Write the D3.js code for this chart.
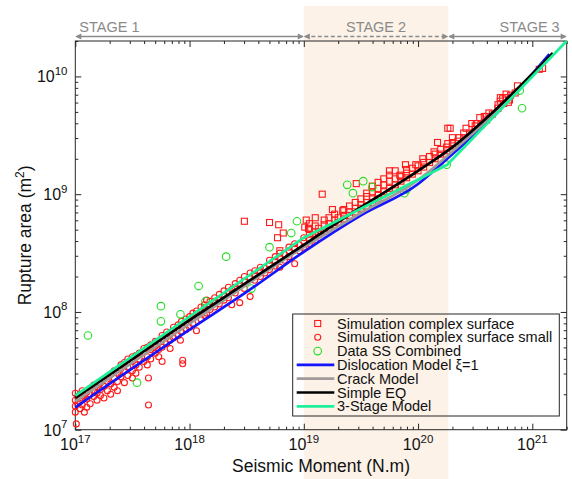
<!DOCTYPE html>
<html><head><meta charset="utf-8">
<script src="https://cdn.jsdelivr.net/npm/d3@7"></script>
<style>body{margin:0;background:#fff}svg{display:block;font-family:"Liberation Sans",Arial,Helvetica,sans-serif}</style>
</head><body><svg id="c" width="572" height="479"></svg>
<script>
// ---------- data ----------
const xDomain = [1e17, 2e21];
const yDomain = [1e7, 2e10];
const xTickExps = ["17", "18", "19", "20", "21"];
const yTickExps = ["7", "8", "9", "10"];
const stageBounds = [1e17, 1e19, 1.84e20, 2e21];
const stageNames = ["STAGE 1", "STAGE 2", "STAGE 3"];
const legendLabels = ["Simulation complex surface", "Simulation complex surface small", "Data SS Combined",
  "Dislocation Model \u03BE=1", "Crack Model", "Simple EQ", "3-Stage Model"];

// Simulation complex surface (squares): [moment, [areas...]]
const simComplexSurface = [
 [3.02e18,[5.89e8]],[5.01e18,[5.75e8]],[6.03e18,[5.50e8]],[6.61e18,[4.68e8]],[5.89e18,[4.27e8]],[6.17e18,[3.31e8]],
 [1.02e19,[5.25e8]],[1.05e19,[6.03e8]],[1.10e19,[5.13e8]],[1.12e19,[5.62e8,4.57e8,5.01e8]],[1.26e19,[6.31e8,4.79e8,5.37e8]],
 [1.35e19,[5.13e8,4.57e8]],[1.45e19,[1.00e9]],[1.51e19,[5.50e8,4.90e8,6.03e8]],[1.66e19,[5.62e8,6.31e8,5.13e8]],
 [1.78e19,[7.41e8]],[1.86e19,[6.03e8,6.76e8,5.50e8]],[2.00e19,[6.31e8,5.75e8]],[2.19e19,[7.24e8]],
 [2.24e19,[6.61e8,7.41e8,6.17e8]],[2.51e19,[7.08e8,7.94e8,6.61e8]],[2.82e19,[7.59e8,8.51e8,7.08e8]],[2.88e19,[1.23e9]],
 [3.16e19,[8.13e8,9.12e8,7.59e8]],[3.55e19,[1.02e9,8.51e8,9.55e8,7.94e8]],[3.98e19,[9.12e8,1.05e9,1.17e9,8.51e8]],
 [4.47e19,[9.77e8,1.12e9,1.26e9,9.12e8]],[5.01e19,[1.05e9,1.20e9,1.35e9]],[5.62e19,[1.58e9,1.45e9,1.12e9,1.29e9]],
 [6.31e19,[1.58e9,1.20e9,1.35e9,1.12e9]],[6.92e19,[1.45e9]],[7.08e19,[1.29e9,1.41e9]],[7.76e19,[1.78e9]],
 [7.94e19,[1.38e9,1.51e9,1.62e9]],[8.91e19,[1.48e9,1.66e9]],[9.55e19,[1.78e9]],[1.00e20,[1.58e9,1.74e9]],
 [1.10e20,[2.00e9]],[1.12e20,[1.70e9,1.86e9]],[1.26e20,[1.86e9,2.09e9]],[1.38e20,[2.29e9]],[1.41e20,[2.00e9,2.19e9]],
 [1.48e20,[2.75e9]],[1.58e20,[2.19e9,2.40e9]],[1.78e20,[2.34e9,2.51e9]],[1.82e20,[3.63e9,2.69e9]],[1.91e20,[3.63e9]],
 [2.00e20,[3.02e9,2.57e9,2.75e9]],[2.24e20,[2.82e9]],[2.29e20,[3.02e9]],[2.51e20,[3.02e9,3.31e9]],[2.63e20,[3.63e9]],
 [2.82e20,[3.31e9]],[2.95e20,[3.98e9]],[3.16e20,[3.55e9,3.80e9]],[3.24e20,[3.98e9]],[3.47e20,[4.47e9]],[3.55e20,[3.89e9]],
 [3.80e20,[4.57e9]],[3.98e20,[4.27e9,4.57e9]],[4.17e20,[4.90e9]],[4.47e20,[4.79e9]],[5.01e20,[5.37e9,5.75e9]],
 [5.25e20,[6.17e9,6.61e9]],[5.50e20,[6.46e9]],[5.62e20,[5.89e9]],[5.89e20,[6.61e9,7.08e9]],[6.17e20,[6.03e9]],
 [6.31e20,[6.31e9]],[6.46e20,[6.92e9]],[7.08e20,[7.24e9]],[7.41e20,[8.32e9]],[1.15e21,[1.15e10]],[1.23e21,[1.17e10]]
];

// Simulation complex surface small (circles): [moment, [areas...]]
const simComplexSmall = [
 [1.00e17,[1.58e7,1.78e7,2.04e7,1.41e7]],[1.02e17,[1.12e7]],[1.05e17,[1.66e7,1.91e7]],[1.10e17,[1.51e7,2.00e7,1.74e7]],
 [1.15e17,[1.86e7,2.14e7,1.62e7]],[1.20e17,[1.41e7,1.95e7]],[1.26e17,[1.55e7,2.09e7,1.82e7]],[1.35e17,[2.00e7,2.24e7,1.66e7]],
 [1.45e17,[1.91e7,2.40e7,2.14e7]],[1.55e17,[1.78e7,2.29e7,2.04e7]],[1.66e17,[2.51e7,2.19e7,1.95e7]],[1.78e17,[2.34e7,2.69e7,1.86e7]],
 [1.91e17,[2.14e7,2.57e7,2.82e7]],[2.04e17,[2.45e7,2.95e7,2.00e7]],[2.19e17,[2.75e7,2.29e7,3.16e7]],[2.34e17,[3.02e7,2.57e7,2.14e7]],
 [2.51e17,[3.31e7,2.82e7,3.55e7]],[2.69e17,[3.16e7,2.51e7,3.72e7]],[2.88e17,[3.39e7,2.88e7,3.98e7]],[3.16e17,[3.80e7,3.16e7,4.17e7,2.75e7]],
 [3.39e17,[3.55e7,4.27e7,3.02e7]],[3.63e17,[3.98e7,4.47e7,3.39e7]],[3.98e17,[4.57e7,3.80e7,4.90e7]],[4.27e17,[4.17e7,5.01e7,3.55e7]],
 [4.37e17,[1.62e7,2.75e7]],[4.57e17,[4.79e7,5.25e7,3.98e7]],[5.01e17,[5.13e7,4.47e7,5.62e7]],[5.37e17,[5.50e7,4.79e7,4.17e7]],
 [5.75e17,[5.89e7,5.01e7,3.80e7,6.31e7]],[6.31e17,[6.17e7,5.37e7,6.76e7]],[6.76e17,[6.46e7,5.75e7,4.90e7]],[7.24e17,[6.92e7,6.03e7,7.41e7]],
 [7.94e17,[7.24e7,6.31e7,7.76e7]],[8.32e17,[5.75e7]],[8.71e17,[3.89e7,3.63e7]],[8.51e17,[7.59e7,6.76e7,8.32e7]],
 [9.33e17,[8.13e7,7.08e7,8.71e7]],[1.00e18,[8.51e7,7.41e7,9.12e7]],[1.07e18,[8.91e7,7.94e7,9.77e7]],[1.15e18,[6.92e7,9.33e7,1.02e8]],
 [1.26e18,[1.00e8,8.71e7,1.10e8]],[1.35e18,[1.07e8,9.33e7,1.15e8]],[1.41e18,[1.26e8,9.77e7]],[1.51e18,[1.15e8,1.05e8,1.23e8]],
 [1.66e18,[1.23e8,1.10e8,1.32e8]],[1.82e18,[1.29e8,1.17e8,1.41e8]],[2.00e18,[1.38e8,1.26e8,1.51e8]],[2.19e18,[1.48e8,1.32e8,1.62e8]],
 [2.34e18,[1.15e8,1.55e8]],[2.51e18,[1.62e8,1.45e8,1.74e8]],[2.75e18,[1.20e8,1.70e8,1.86e8]],[3.02e18,[1.82e8,1.58e8,2.00e8]],
 [3.39e18,[1.35e8,1.95e8,2.14e8]],[3.72e18,[2.04e8,1.86e8,2.24e8]],[4.17e18,[2.19e8,2.00e8,2.40e8]],[4.57e18,[2.34e8,2.14e8]],
 [5.01e18,[2.51e8,2.29e8,2.75e8]],[5.62e18,[2.69e8,2.45e8,2.95e8]],[6.17e18,[2.40e8,2.88e8,3.16e8]],[6.76e18,[3.09e8,2.75e8]],
 [7.41e18,[3.31e8,2.95e8,3.55e8]],[8.32e18,[2.57e8,3.47e8,3.80e8]],[9.12e18,[3.72e8,3.31e8]],[1.00e19,[3.98e8,3.55e8,4.27e8]],
 [1.12e19,[4.17e8,3.80e8]],[1.26e19,[4.57e8,4.07e8]],[1.41e19,[4.79e8]]
];

// Data SS Combined (green circles): [moment, area]
const dataSSCombined = [
 [1.29e17,6.31e7],[3.47e17,2.51e7],[5.62e17,1.12e8],[5.62e17,8.32e7],[8.32e17,9.55e7],[1.20e18,1.66e8],[1.38e18,1.23e8],
 [2.09e18,2.95e8],[3.47e18,1.58e8],[5.01e18,3.55e8],[7.76e18,4.68e8],[8.71e18,5.89e8],[2.40e19,1.20e9],[2.69e19,1.02e9],
 [3.31e19,1.29e9],[3.98e19,1.15e9],[7.59e19,1.02e9],[7.94e19,1.10e9],[1.78e20,1.78e9],[7.76e20,7.59e9],[8.13e20,5.37e9]
];

// model curves: [moment, area]
const dislocationModel = [[1e17,1.55e7],[1e18,7.08e7],[3.16e18,1.48e8],[1e19,3.24e8],[3.16e19,6.61e8],[1e20,1.22e9],[1.78e20,1.98e9],[4.79e20,4.79e9],[1.41e21,1.55e10]];
const crackModel = [[1e17,1.74e7],[1e18,7.94e7],[1e19,3.55e8],[3.16e19,6.92e8],[1e20,1.32e9],[1.78e20,2.09e9],[4.79e20,5.01e9],[1.26e21,1.32e10]];
const simpleEQ = [[1e17,1.86e7],[3.16e17,3.98e7],[1e18,8.51e7],[3.16e18,1.78e8],[1e19,3.72e8],[3.16e19,7.76e8],[1e20,1.58e9],[2e20,2.51e9],[4.79e20,5.25e9],[1e21,1.05e10],[1.51e21,1.58e10]];
const threeStageModel = [[1e17,1.95e7],[1e19,4.27e8],[1.8e20,1.78e9],[2e21,2e10]];

// ---------- drawing ----------
const W = 572, H = 479;
const m = {l: 75.3, r: 566.7, t: 41, b: 429.7};
const svg = d3.select("#c");
const x = d3.scaleLog().domain(xDomain).range([m.l, m.r]);
const y = d3.scaleLog().domain(yDomain).range([m.b, m.t]);

const colors = {red: "#ff1a1a", green: "#22dd22", blue: "#1414ff", gray: "#a09a98", black: "#000000", spring: "#1ef09a", stage: "#8a8a8a", axis: "#262626"};

svg.append("rect").attr("width", W).attr("height", H).attr("fill", "#fff");
svg.append("rect").attr("x", x(stageBounds[1])).attr("y", 6)
  .attr("width", x(stageBounds[2]) - x(stageBounds[1])).attr("height", H - 6).attr("fill", "#fcf2e8");

// ticks
const isMajor = v => Math.abs(Math.log10(v) - Math.round(Math.log10(v))) < 1e-9;
const xt = x.ticks(), yt = y.ticks();
const xMaj = xt.filter(isMajor), xMin = xt.filter(v => !isMajor(v));
const yMaj = yt.filter(isMajor), yMin = yt.filter(v => !isMajor(v));
function axisG(gen, scale, vals, size, tr) {
  svg.append("g").attr("transform", tr)
    .call(gen(scale).tickValues(vals).tickSize(size).tickFormat(""))
    .call(g => g.select(".domain").remove())
    .selectAll("line").attr("stroke", colors.axis).attr("stroke-width", 1);
}
axisG(d3.axisBottom, x, xMaj, -6, `translate(0,${m.b})`);
axisG(d3.axisBottom, x, xMin, -3, `translate(0,${m.b})`);
axisG(d3.axisTop, x, xMaj, -6, `translate(0,${m.t})`);
axisG(d3.axisTop, x, xMin, -3, `translate(0,${m.t})`);
axisG(d3.axisLeft, y, yMaj, -6, `translate(${m.l},0)`);
axisG(d3.axisLeft, y, yMin, -3, `translate(${m.l},0)`);
axisG(d3.axisRight, y, yMaj, -6, `translate(${m.r},0)`);
axisG(d3.axisRight, y, yMin, -3, `translate(${m.r},0)`);

svg.append("rect").attr("x", m.l).attr("y", m.t).attr("width", m.r - m.l).attr("height", m.b - m.t)
  .attr("fill", "none").attr("stroke", colors.axis).attr("stroke-width", 1);

// tick labels
xTickExps.forEach(e => {
  const t = svg.append("text").attr("x", x(+("1e" + e))).attr("y", 450).attr("text-anchor", "middle")
    .attr("font-size", 16).attr("fill", "#111");
  t.append("tspan").text("10");
  t.append("tspan").attr("dy", -7.5).attr("font-size", 11.5).text(e);
});
yTickExps.forEach(e => {
  const t = svg.append("text").attr("x", 67.5).attr("y", y(+("1e" + e)) + 6).attr("text-anchor", "end")
    .attr("font-size", 16).attr("fill", "#111");
  t.append("tspan").text("10");
  t.append("tspan").attr("dy", -7.5).attr("font-size", 11.5).text(e);
});

// axis titles
svg.append("text").attr("x", (m.l + m.r) / 2).attr("y", 471.5).attr("text-anchor", "middle")
  .attr("font-size", 17.5).attr("fill", "#111").text("Seismic Moment (N.m)");
const yl = svg.append("text").attr("transform", `translate(31,${(m.t + m.b) / 2}) rotate(-90)`)
  .attr("text-anchor", "middle").attr("font-size", 17.5).attr("fill", "#111");
yl.append("tspan").text("Rupture area (m");
yl.append("tspan").attr("dy", -7).attr("font-size", 12).text("2");
yl.append("tspan").attr("dy", 7).text(")");

// stage arrows
const arrowY = 36.5;
function arrowHead(px, dir) {
  svg.append("path").attr("d", `M${px},${arrowY} l${-dir * 6},-3 l0,6 z`).attr("fill", colors.stage);
}
stageNames.forEach((nm, i) => {
  const a = x(stageBounds[i]), b = x(stageBounds[i + 1]);
  svg.append("line").attr("x1", a + 1).attr("x2", b - 1).attr("y1", arrowY).attr("y2", arrowY)
    .attr("stroke", colors.stage).attr("stroke-width", 1.6)
    .attr("stroke-dasharray", i === 1 ? "4,2.5" : null);
  arrowHead(a, -1); arrowHead(b, 1);
  const tx = i === 0 ? a + 4 : i === 1 ? (a + b) / 2 : b - 7;
  const anchor = i === 0 ? "start" : i === 1 ? "middle" : "end";
  svg.append("text").attr("x", tx).attr("y", 32).attr("text-anchor", anchor)
    .attr("font-size", 14.5).attr("fill", colors.stage).text(nm);
});

// points
const flat = arr => arr.flatMap(([M, As]) => As.map(A => [M, A]));
const sq = 6;
svg.append("g").selectAll("rect").data(flat(simComplexSurface)).join("rect")
  .attr("x", d => x(d[0]) - sq / 2).attr("y", d => y(d[1]) - sq / 2).attr("width", sq).attr("height", sq)
  .attr("fill", "none").attr("stroke", colors.red).attr("stroke-width", 1.1);
svg.append("g").selectAll("circle").data(flat(simComplexSmall)).join("circle")
  .attr("cx", d => x(d[0])).attr("cy", d => y(d[1])).attr("r", 3)
  .attr("fill", "none").attr("stroke", colors.red).attr("stroke-width", 1.1);
svg.append("g").selectAll("circle").data(dataSSCombined).join("circle")
  .attr("cx", d => x(d[0])).attr("cy", d => y(d[1])).attr("r", 3.8)
  .attr("fill", "none").attr("stroke", colors.green).attr("stroke-width", 1.1);

// model lines
const curve = d3.line().x(d => x(d[0])).y(d => y(d[1])).curve(d3.curveMonotoneX);
const straight = d3.line().x(d => x(d[0])).y(d => y(d[1]));
[[dislocationModel, colors.blue, curve], [crackModel, colors.gray, curve], [simpleEQ, colors.black, curve], [threeStageModel, colors.spring, straight]]
  .forEach(([data, c, gen]) => {
    svg.append("path").attr("d", gen(data)).attr("fill", "none").attr("stroke", c).attr("stroke-width", 2.7)
      .attr("stroke-linejoin", "round");
  });

// legend
const lg = {x: 292.7, y: 314, w: 266.6, h: 102};
svg.append("rect").attr("x", lg.x).attr("y", lg.y).attr("width", lg.w).attr("height", lg.h)
  .attr("fill", "none").attr("stroke", colors.axis).attr("stroke-width", 1);
const rowY = i => 323.5 + i * 13.8;
const textX = 337;
legendLabels.forEach((lab, i) => {
  const cy = rowY(i);
  if (i === 0) svg.append("rect").attr("x", 317.7 - 3).attr("y", cy - 3).attr("width", 6).attr("height", 6)
    .attr("fill", "none").attr("stroke", colors.red).attr("stroke-width", 1.1);
  if (i === 1) svg.append("circle").attr("cx", 317.7).attr("cy", cy).attr("r", 3)
    .attr("fill", "none").attr("stroke", colors.red).attr("stroke-width", 1.1);
  if (i === 2) svg.append("circle").attr("cx", 317.7).attr("cy", cy).attr("r", 3.8)
    .attr("fill", "none").attr("stroke", colors.green).attr("stroke-width", 1.1);
  if (i >= 3) svg.append("line").attr("x1", 296.7).attr("x2", 334.3).attr("y1", cy).attr("y2", cy)
    .attr("stroke", [colors.blue, colors.gray, colors.black, colors.spring][i - 3]).attr("stroke-width", 2.7);
  svg.append("text").attr("x", textX).attr("y", cy + 5).attr("font-size", 14.5).attr("fill", "#111").text(lab);
});
</script></body></html>
